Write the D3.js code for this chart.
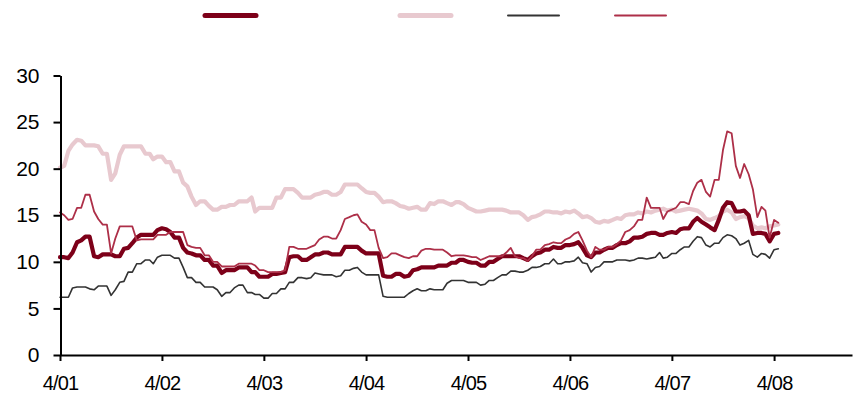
<!DOCTYPE html>
<html>
<head>
<meta charset="utf-8">
<script src="https://cdn.jsdelivr.net/npm/d3@7"></script>
<style>
  body { margin: 0; background: #fff; }
  svg { display: block; }
  text { font-family: "Liberation Sans", Arial, sans-serif; }
</style>
</head>
<body>
<svg id="chart" width="854" height="408"></svg>
<script>
// Axis labels
const xTickLabels = ["4/01", "4/02", "4/03", "4/04", "4/05", "4/06", "4/07", "4/08"];
const yTickValues = [0, 5, 10, 15, 20, 25, 30];

// Half-monthly observation dates starting April 2001
const periodCount = 170;
const periods = d3.range(periodCount).map(i =>
  new Date(Date.UTC(2001, 3 + Math.floor(i / 2), i % 2 ? 16 : 1)));

// Series values (one per period)
const seriesDark = [
  10.5,10.5,10.4,11.0,12.1,12.3,12.7,12.7,10.6,10.5,
  10.8,10.8,10.8,10.6,10.6,11.4,11.5,12.0,12.6,12.9,
  12.9,12.9,12.9,13.4,13.6,13.5,13.2,12.6,12.6,11.5,
  11.0,10.9,10.7,10.7,10.2,10.2,9.6,9.6,8.8,9.1,
  9.1,9.1,9.4,9.4,9.4,8.9,8.9,8.4,8.4,8.4,
  8.7,8.7,8.8,8.9,10.5,10.6,10.6,10.2,10.2,10.5,
  10.8,10.8,11.0,11.0,10.8,10.8,10.8,11.6,11.6,11.6,
  11.6,11.2,10.9,10.9,10.9,10.9,8.5,8.4,8.4,8.7,
  8.7,8.4,8.5,9.1,9.2,9.4,9.4,9.4,9.4,9.6,
  9.6,9.6,9.9,9.9,10.2,10.2,10.0,9.9,9.9,9.6,
  9.6,10.0,10.0,10.3,10.6,10.6,10.6,10.6,10.6,10.4,
  10.2,10.6,10.9,11.0,11.3,11.3,11.6,11.5,11.5,11.8,
  11.8,11.9,12.1,11.5,10.7,10.5,11.0,11.0,11.3,11.5,
  11.5,11.8,12.0,12.0,12.2,12.6,12.6,12.7,13.0,13.1,
  13.1,12.9,12.9,13.1,13.2,13.1,13.5,13.6,13.6,14.3,
  14.7,14.3,14.0,13.7,13.4,14.5,15.8,16.4,16.3,15.4,
  15.4,15.5,15.0,13.0,13.1,13.1,13.0,12.2,13.0,13.1
];

const seriesLight = [
  20.1,20.3,21.9,22.6,23.1,23.0,22.5,22.5,22.5,22.4,
  21.6,21.6,18.8,19.5,21.5,22.4,22.4,22.4,22.4,22.4,
  21.6,21.6,21.0,21.3,21.3,20.7,20.7,19.7,19.7,18.5,
  18.1,17.0,16.1,16.5,16.5,16.0,15.6,15.6,15.9,15.9,
  16.1,16.1,16.5,16.5,16.5,16.9,15.4,15.8,15.8,15.8,
  15.8,16.9,16.9,17.8,17.8,17.8,17.4,16.9,16.9,16.9,
  17.2,17.3,17.5,17.5,17.2,17.2,17.5,18.3,18.3,18.3,
  18.3,17.9,17.5,17.4,17.4,17.0,16.4,16.5,16.5,16.3,
  16.0,15.9,15.7,15.8,15.9,15.6,15.6,16.3,16.2,16.5,
  16.5,16.3,16.1,16.4,16.4,16.2,15.8,15.6,15.4,15.4,
  15.5,15.6,15.6,15.6,15.6,15.5,15.3,15.3,15.3,15.0,
  14.5,14.8,14.9,15.1,15.4,15.4,15.3,15.3,15.2,15.4,
  15.3,15.5,15.2,14.8,14.9,14.7,14.3,14.2,14.4,14.3,
  14.5,14.7,14.6,15.0,15.1,15.1,15.3,15.2,15.4,15.3,
  15.5,15.6,15.7,15.5,15.6,15.4,15.5,15.6,15.7,15.6,
  15.5,15.2,14.6,14.5,14.7,14.9,15.4,15.6,15.3,14.6,
  14.8,14.9,14.7,13.9,13.6,13.7,13.6,13.8,13.9,14.0
];

const seriesGray = [
  6.2,6.2,6.2,7.2,7.3,7.3,7.3,7.1,7.0,7.4,
  7.4,7.4,6.4,7.0,7.8,7.9,8.9,8.9,9.8,9.8,
  10.2,10.2,9.8,10.5,10.7,10.7,10.7,10.4,10.4,9.4,
  8.3,8.3,7.8,7.8,7.3,7.3,7.3,7.0,6.3,6.7,
  6.7,7.2,7.5,7.5,6.7,6.7,6.5,6.5,6.1,6.1,
  6.6,6.6,7.1,7.1,7.8,7.8,8.3,8.3,8.2,8.3,
  8.8,8.7,8.6,8.6,8.6,8.4,8.5,9.1,9.1,9.3,
  9.4,8.9,8.6,8.6,8.6,8.6,6.3,6.2,6.2,6.2,
  6.2,6.2,6.6,6.9,7.1,6.9,6.9,7.1,7.0,7.0,
  7.0,7.7,8.0,8.0,8.0,8.0,7.8,7.8,7.8,7.5,
  7.6,8.0,8.0,8.3,8.6,8.6,9.0,9.0,8.9,8.9,
  9.1,9.4,9.4,9.5,9.8,9.8,10.3,9.8,9.8,10.0,
  10.0,10.1,10.5,9.9,9.8,8.9,9.4,9.5,10.0,10.0,
  10.0,10.2,10.2,10.2,10.1,10.2,10.4,10.4,10.3,10.4,
  10.5,11.0,10.4,10.5,10.9,10.9,11.3,11.6,11.6,12.2,
  12.7,12.6,11.8,11.6,12.0,12.0,12.6,12.9,12.8,12.5,
  11.8,12.0,12.3,10.8,10.5,10.9,10.8,10.4,11.3,11.4
];

const seriesRed = [
  15.3,15.0,14.5,14.6,15.8,15.8,17.2,17.2,15.4,14.6,
  14.0,14.0,10.9,12.5,13.8,13.8,13.8,13.8,12.3,12.4,
  12.4,12.4,12.4,12.9,12.9,12.9,13.2,13.2,13.2,13.2,
  11.8,11.6,11.5,11.5,10.7,10.7,10.0,10.0,9.5,9.5,
  9.5,9.5,9.8,9.8,9.8,9.8,9.6,9.1,9.1,8.9,
  8.9,8.9,8.9,9.1,11.6,11.6,11.4,11.4,11.4,11.6,
  11.8,12.4,12.7,12.7,12.5,12.5,13.4,14.6,14.8,15.0,
  15.1,14.3,14.0,13.4,13.4,11.5,10.4,10.5,10.9,10.9,
  10.7,10.5,10.4,10.6,10.6,11.2,11.4,11.4,11.3,11.3,
  11.3,11.0,10.6,10.7,10.7,10.7,10.6,10.5,10.5,10.2,
  10.4,10.6,10.6,10.6,10.6,11.0,11.5,10.6,10.4,10.4,
  10.1,10.6,11.3,11.3,11.8,11.9,12.1,12.0,12.0,12.4,
  12.6,13.0,13.2,12.3,11.2,10.5,11.6,11.3,11.3,11.6,
  11.6,11.9,12.3,13.2,13.4,13.8,14.5,14.5,16.9,15.8,
  15.8,15.8,14.6,15.4,15.6,15.8,16.4,16.4,16.2,17.6,
  18.5,18.8,17.5,17.0,18.8,18.8,22.0,24.0,23.8,20.3,
  19.0,20.5,19.4,17.8,14.8,15.9,15.5,12.6,14.5,14.2
];

// Drawing order: lowest layer first
const layers = [
  { values: seriesLight, color: "#e8c9cf", width: 4.2 },
  { values: seriesDark,  color: "#7d0019", width: 4.2 },
  { values: seriesGray,  color: "#333333", width: 1.6 },
  { values: seriesRed,   color: "#ad2f48", width: 1.8 }
];

// Legend swatches (left to right)
const legendItems = [
  { color: "#7d0019", width: 5, x: 205 },
  { color: "#e8c9cf", width: 5, x: 400 },
  { color: "#333333", width: 2, x: 508 },
  { color: "#ad2f48", width: 2, x: 615 }
];

const svg = d3.select("#chart");

const x = d3.scaleUtc()
  .domain([new Date(Date.UTC(2001, 3, 1)), new Date(Date.UTC(2009, 0, 5))])
  .range([60, 852]);

const y = d3.scaleLinear()
  .domain([0, 30])
  .range([355, 75.5]);

const xTickDates = xTickLabels.map((_, k) => new Date(Date.UTC(2001 + k, 3, 1)));

// Series lines
const line = d3.line()
  .x((d, i) => x(periods[i]))
  .y(d => y(d));

svg.append("g")
  .selectAll("path")
  .data(layers)
  .join("path")
  .attr("fill", "none")
  .attr("stroke", d => d.color)
  .attr("stroke-width", d => d.width)
  .attr("stroke-linejoin", "round")
  .attr("stroke-linecap", "round")
  .attr("d", d => line(d.values));

// Y axis
const yAxis = svg.append("g")
  .attr("transform", "translate(60.5,0)")
  .call(d3.axisLeft(y).tickValues(yTickValues).tickSize(7).tickPadding(14).tickSizeOuter(0));

// X axis
const xAxis = svg.append("g")
  .attr("transform", `translate(0,${y(0)})`)
  .call(d3.axisBottom(x).tickValues(xTickDates)
    .tickFormat((d, i) => xTickLabels[i])
    .tickSize(6).tickPadding(15).tickSizeOuter(0));

[yAxis, xAxis].forEach(g => {
  g.select(".domain").attr("stroke", "#000").attr("stroke-width", 2);
  g.selectAll(".tick line").attr("stroke", "#000").attr("stroke-width", 2);
  g.selectAll("text")
    .attr("fill", "#000")
    .style("font-size", "21px")
    .style("font-family", "'Liberation Sans', Arial, sans-serif");
});
xAxis.selectAll("text").style("font-size", "20px").style("letter-spacing", "-0.8px");

// Legend
svg.append("g")
  .selectAll("line")
  .data(legendItems)
  .join("line")
  .attr("x1", d => d.x)
  .attr("x2", d => d.x + 51)
  .attr("y1", 15.5)
  .attr("y2", 15.5)
  .attr("stroke", d => d.color)
  .attr("stroke-width", d => d.width)
  .attr("stroke-linecap", "round");
</script>
</body>
</html>
